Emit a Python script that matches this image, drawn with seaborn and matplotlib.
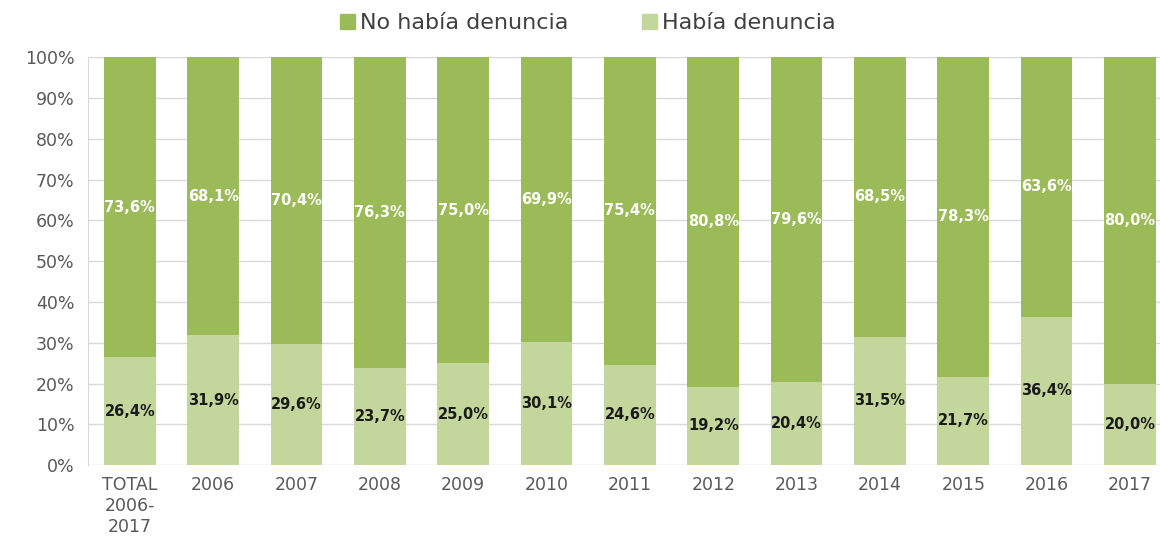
import matplotlib
matplotlib.use("Agg")
import matplotlib.pyplot as plt
import matplotlib.patches as mpatches
import numpy as np
import pandas as pd
import seaborn as sns

# Data
categories = ["TOTAL\n2006-\n2017", "2006", "2007", "2008", "2009", "2010",
              "2011", "2012", "2013", "2014", "2015", "2016", "2017"]
habia = [26.4, 31.9, 29.6, 23.7, 25.0, 30.1, 24.6, 19.2, 20.4, 31.5, 21.7, 36.4, 20.0]
no_habia = [73.6, 68.1, 70.4, 76.3, 75.0, 69.9, 75.4, 80.8, 79.6, 68.5, 78.3, 63.6, 80.0]

dark_green = "#9bbb59"
light_green = "#c3d69b"

sns.set_style("white")
plt.rcParams["font.family"] = ["DejaVu Sans"]

df = pd.DataFrame({"cat": categories, "habia": habia, "no_habia": no_habia})
df["total"] = df["habia"] + df["no_habia"]

fig = plt.figure(figsize=(11.6, 5.39), dpi=100)
ax = fig.add_axes([0.076, 0.137, 0.924, 0.757])

sns.barplot(data=df, x="cat", y="total", color=dark_green, width=0.62,
            saturation=1, linewidth=0, ax=ax, zorder=2)
sns.barplot(data=df, x="cat", y="habia", color=light_green, width=0.62,
            saturation=1, linewidth=0, ax=ax, zorder=3)

top_bars = ax.containers[0]
bottom_bars = ax.containers[1]
# label the dark segment at its own centre
for bar, v, b in zip(top_bars, no_habia, habia):
    ax.text(bar.get_x() + bar.get_width() / 2, b + v / 2,
            f"{v:.1f}%".replace(".", ","), ha="center", va="center",
            color="white", fontsize=10.5, fontweight="bold", zorder=4)
for bar, v in zip(bottom_bars, habia):
    ax.text(bar.get_x() + bar.get_width() / 2, v / 2,
            f"{v:.1f}%".replace(".", ","), ha="center", va="center",
            color="#1a1a1a", fontsize=10.5, fontweight="bold", zorder=4)

ax.set_ylim(0, 100)
ax.set_xlim(-0.5, 12.36)
ax.set_yticks(np.arange(0, 101, 10))
ax.set_yticklabels([f"{t}%" for t in range(0, 101, 10)])
ax.yaxis.grid(True, color="#d9d9d9", linewidth=1, zorder=0)
ax.set_axisbelow(True)
ax.set_xlabel("")
ax.set_ylabel("")
ax.tick_params(axis="both", colors="#595959", labelsize=12.5, length=0)
ax.tick_params(axis="x", pad=8)
ax.tick_params(axis="y", pad=10)
for s in ["top", "right", "bottom"]:
    ax.spines[s].set_visible(False)
ax.spines["left"].set_color("#d9d9d9")

handles = [mpatches.Patch(color=dark_green, label="No había denuncia"),
           mpatches.Patch(color=light_green, label="Había denuncia")]
fig.legend(handles=handles, loc="upper center", bbox_to_anchor=(0.507, 1.0),
           ncol=2, frameon=False, fontsize=16, handlelength=0.65,
           handleheight=0.65, handletextpad=0.25, columnspacing=3.3,
           labelcolor="#404040", borderaxespad=0.2)

fig.savefig("out.png", dpi=100)
